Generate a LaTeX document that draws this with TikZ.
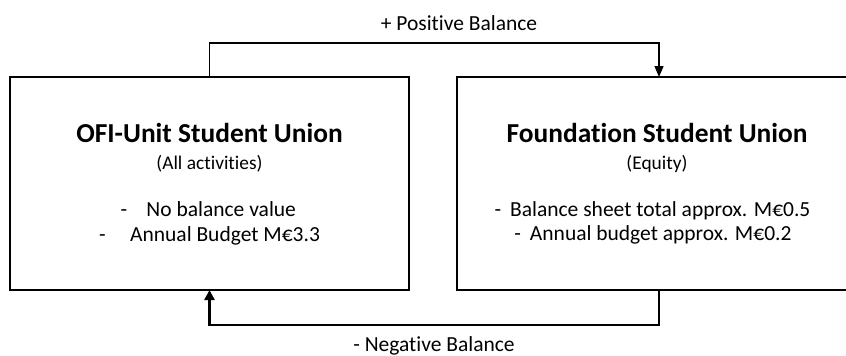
\documentclass[tikz,border=0pt]{standalone}
\usepackage{fontspec}
\setmainfont{Carlito}[Ligatures=NoCommon]
\usetikzlibrary{arrows.meta}

\tikzset{
  unitbox/.style={draw=black, line width=1.8pt, minimum width=399pt, minimum height=213pt,
                  inner sep=0pt, outer sep=0pt},
  titletext/.style={font=\fontsize{27.4}{30}\selectfont\bfseries, inner sep=0pt, anchor=base},
  subtext/.style={font=\fontsize{19.4}{22}\selectfont, inner sep=0pt, anchor=base},
  itemtext/.style={font=\fontsize{21.5}{24}\selectfont, inner sep=0pt},
  flowlabel/.style={font=\fontsize{21.5}{24}\selectfont, inner sep=0pt, anchor=base},
  posflow/.style={line width=1.3pt, -{Triangle[width=9pt,length=11pt]}},
  negflow/.style={line width=2.4pt, -{Triangle[width=10pt,length=10pt]}},
}

\begin{document}
\begin{tikzpicture}[x=1pt, y=-1pt]
  \useasboundingbox (0,0) rectangle (846,356);
  \clip (0,0) rectangle (846,356);

  % the two organisations
  \node[unitbox] (ofi) at (209.5,183.5) {};
  \node[unitbox, minimum width=404pt] (fsu) at (659,183.5) {};

  % left box contents
  \node[titletext] (ofititle) at (209.5,142) {OFI-Unit Student Union};
  \node[subtext] (ofisub) at (209.5,169) {(All activities)};
  \node[itemtext, anchor=base west] (ofiA) at (120.5,216.5) {-\hspace{19.2pt}No balance value};
  \node[itemtext, anchor=base west] (ofiB) at (99,241) {-\hspace{24.4pt}Annual Budget M€3.3};

  % right box contents
  \node[titletext] (fsutitle) at (657,142.5) {Foundation Student Union};
  \node[subtext] (fsusub) at (657,169.5) {(Equity)};
  \node[itemtext, anchor=base] (fsuA) at (652.5,216.5) {-\hspace{9pt}Balance sheet total approx. M€0.5};
  \node[itemtext, anchor=base] (fsuB) at (653,240.5) {-\hspace{9pt}Annual budget approx. M€0.2};

  % flows between the two
  \draw[posflow] (ofi.north) -- ++(0,-34) coordinate (topbend) -| (fsu.north);
  \draw[negflow] (fsu.south) -- ++(0,35) coordinate (botbend) -| (ofi.south);

  \node[flowlabel] (poslabel) at (459,30) {+ Positive Balance};
  \node[flowlabel] (neglabel) at (434,351) {- Negative Balance};
\end{tikzpicture}
\end{document}
